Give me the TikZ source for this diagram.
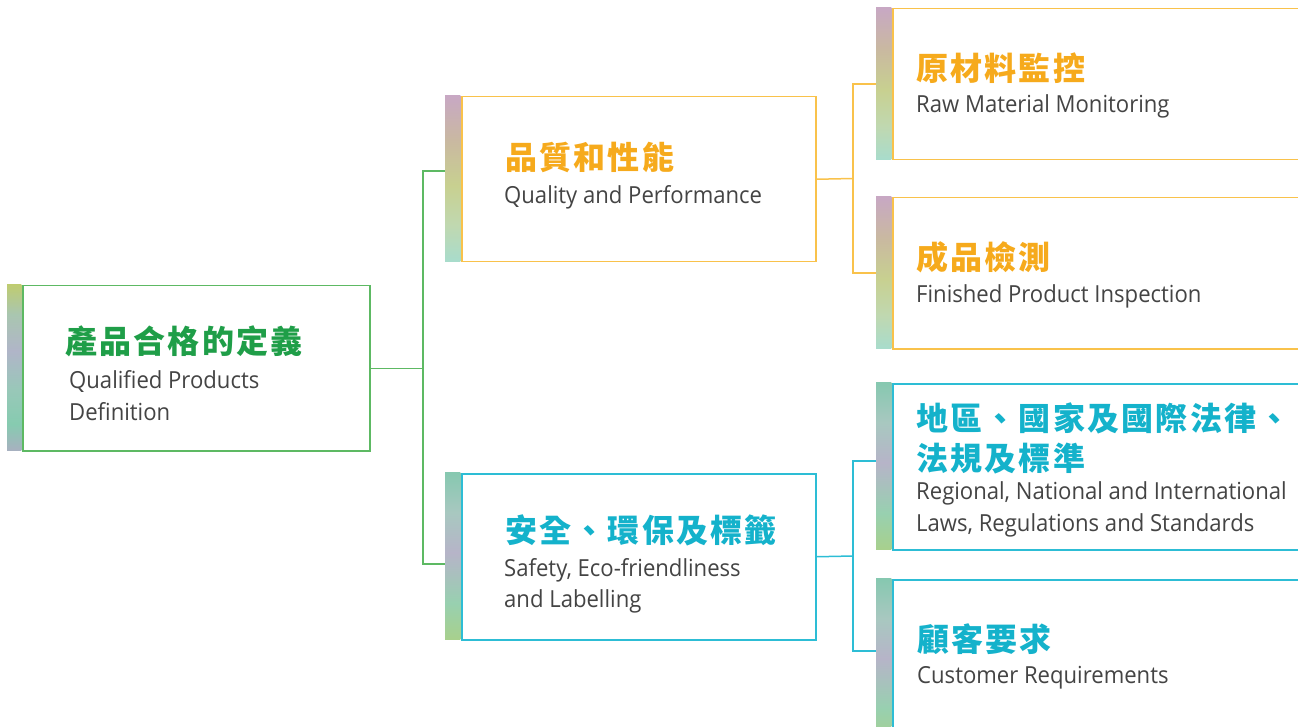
\documentclass[tikz,border=0pt]{standalone}
\usepackage{fontspec}
\setmainfont{Open Sans}
\newfontfamily\en{Open Sans}[FakeStretch=0.94]
\newfontfamily\cjk{Noto Sans CJK TC}[LetterSpace=7]
\usetikzlibrary{calc}
\pgfdeclarelayer{bg}
\pgfsetlayers{bg,main}
\definecolor{gline}{HTML}{5DB963}
\definecolor{gtext}{HTML}{1F9E48}
\definecolor{oline}{HTML}{F9C24B}
\definecolor{otext}{HTML}{F6AA1C}
\definecolor{cline}{HTML}{2DBDD5}
\definecolor{ctext}{HTML}{14B2CB}
\definecolor{entext}{HTML}{444444}
% strip colours
\definecolor{ga}{HTML}{A8B0C0}\definecolor{gb}{HTML}{86CBB0}\definecolor{gc}{HTML}{98C8B8}
\definecolor{gd}{HTML}{B0B5C8}\definecolor{ge}{HTML}{A9C6B0}\definecolor{gf}{HTML}{BFCC70}
\definecolor{oa}{HTML}{A8DCCC}\definecolor{ob}{HTML}{C0D8B0}\definecolor{oc}{HTML}{C8D090}
\definecolor{od}{HTML}{C9B9A0}\definecolor{oe}{HTML}{C8A8C4}
\definecolor{ca}{HTML}{A8D08C}\definecolor{cb}{HTML}{98D0B0}\definecolor{cc}{HTML}{B6B4C8}
\definecolor{cd}{HTML}{A8C8C0}\definecolor{ce}{HTML}{86C8B0}
\pgfdeclareverticalshading{gstrip}{100bp}{color(0bp)=(ga); color(25bp)=(ga); color(33bp)=(gb); color(43bp)=(gc); color(55bp)=(gd); color(66bp)=(ge); color(75bp)=(gf); color(100bp)=(gf)}
\pgfdeclareverticalshading{ostrip}{100bp}{color(0bp)=(oa); color(25bp)=(oa); color(36bp)=(ob); color(48bp)=(oc); color(61bp)=(od); color(75bp)=(oe); color(100bp)=(oe)}
\pgfdeclareverticalshading{cstrip}{100bp}{color(0bp)=(ca); color(25bp)=(ca); color(36bp)=(cb); color(51bp)=(cc); color(63bp)=(cd); color(75bp)=(ce); color(100bp)=(ce)}
\tikzset{
  box/.style={draw, line width=1.5pt, fill=white, inner sep=0pt, anchor=north west},
  zh/.style={anchor=base west, inner sep=0pt, align=left, font=\cjk\bfseries\fontsize{32}{40}\selectfont},
  en/.style={anchor=base west, inner sep=0pt, align=left, text=entext, font=\en\fontsize{23.5}{31.5}\selectfont},
  conn/.style={line width=1.5pt}
}
\begin{document}
\begin{tikzpicture}[x=1pt,y=-1pt]
\useasboundingbox (0,0) rectangle (1298,727);
\clip (0,0) rectangle (1298,727);
% boxes
\node[box, draw=gline, minimum width=347pt, minimum height=165pt] (root) at (22,285) {};
\node[box, draw=oline, minimum width=354pt, minimum height=165pt] (qual) at (461,96) {};
\node[box, draw=cline, minimum width=354pt, minimum height=166pt] (safe) at (461,473) {};
\node[box, draw=oline, minimum width=420pt, minimum height=151pt] (raw) at (892,8) {};
\node[box, draw=oline, minimum width=420pt, minimum height=151pt] (fin) at (892,197) {};
\node[box, draw=cline, minimum width=420pt, minimum height=166pt] (reg) at (892,383) {};
\node[box, draw=cline, minimum width=420pt, minimum height=166pt] (cust) at (892,579) {};
% strips
\shade[shading=gstrip] (7,284.3) rectangle (21.3,450.7);
\shade[shading=ostrip] (445,95.3) rectangle (460.3,261.7);
\shade[shading=cstrip] (445,472.3) rectangle (460.3,639.7);
\shade[shading=ostrip] (876,7.3) rectangle (891.3,159.7);
\shade[shading=ostrip] (876,196.3) rectangle (891.3,348.7);
\shade[shading=cstrip] (876,382.3) rectangle (891.3,549.7);
\shade[shading=cstrip] (876,578.3) rectangle (891.3,745);
% connectors
\coordinate (ra) at (423,171);
\coordinate (rb) at (423,564);
\coordinate (qj) at (853,178.5);
\coordinate (sj) at (853,556);
\coordinate (sa) at (853,461);
\coordinate (sb) at (853,651);
\begin{pgfonlayer}{bg}
\draw[conn, gline] (root.east) -- (root.east -| ra);
\draw[conn, gline] (qual.west |- ra) -- (ra) -- (rb) -- (safe.west |- rb);
\draw[conn, oline] (qual.east) -- (qj);
\draw[conn, oline] (raw.west) -- (raw.west -| qj) -- (fin.west -| qj) -- (fin.west);
\draw[conn, cline] (safe.east) -- (sj);
\draw[conn, cline] (reg.west |- sa) -- (sa) -- (sb) -- (cust.west |- sb);
\end{pgfonlayer}
% texts (multi-line nodes are placed by the baseline of their last line)
\node[zh, text=gtext] (rootzh) at (65,353) {產品合格的定義};
\node[en] (rooten) at (69,420) {Qualified Products\\Definition};
\node[zh, text=otext] (qualzh) at (505,170) {品質和性能};
\node[en] (qualen) at (504,204) {Quality and Performance};
\node[zh, text=otext] (rawzh) at (916,81) {原材料監控};
\node[en] (rawen) at (916,113) {Raw Material Monitoring};
\node[zh, text=otext] (finzh) at (916,270) {成品檢測};
\node[en] (finen) at (916,302) {Finished Product Inspection};
\node[zh, text=ctext] (safezh) at (505,542) {安全、環保及標籤};
\node[en] (safeen) at (504,607.5) {Safety, Eco-friendliness\\and Labelling};
\node[zh, text=ctext] (regzh) at (916,470) {地區、國家及國際法律、\\法規及標準};
\node[en] (regen) at (916,531) {Regional, National and International\\Laws, Regulations and Standards};
\node[zh, text=ctext] (custzh) at (917,651) {顧客要求};
\node[en] (custen) at (917,683) {Customer Requirements};
\end{tikzpicture}
\end{document}
